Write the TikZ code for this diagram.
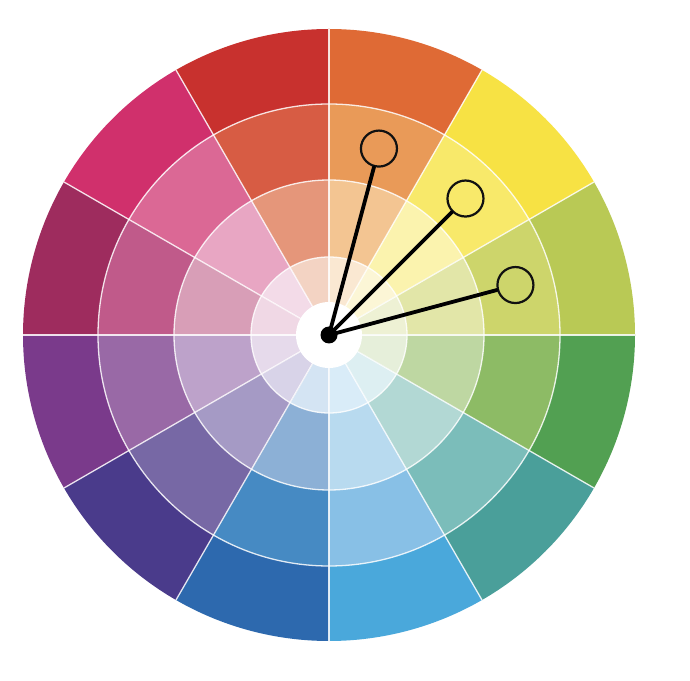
\documentclass[tikz,border=0pt]{standalone}
\usetikzlibrary{calc}
% sector colours: outer, second, third, inner
\definecolor{rA}{HTML}{C8312E}\definecolor{rB}{HTML}{D75C44}\definecolor{rC}{HTML}{E5967A}\definecolor{rD}{HTML}{F3D3C3}
\definecolor{oA}{HTML}{DF6A35}\definecolor{oB}{HTML}{E99A58}\definecolor{oC}{HTML}{F3C592}\definecolor{oD}{HTML}{FAE8D2}
\definecolor{yA}{HTML}{F7E244}\definecolor{yB}{HTML}{F8E96A}\definecolor{yC}{HTML}{FBF3AE}\definecolor{yD}{HTML}{FCF6D6}
\definecolor{lA}{HTML}{B9C955}\definecolor{lB}{HTML}{CDD56B}\definecolor{lC}{HTML}{E2E6A8}\definecolor{lD}{HTML}{EEF1D4}
\definecolor{gA}{HTML}{52A052}\definecolor{gB}{HTML}{8DBB65}\definecolor{gC}{HTML}{BED7A2}\definecolor{gD}{HTML}{E6EFDA}
\definecolor{tA}{HTML}{4A9F9A}\definecolor{tB}{HTML}{7BBDBA}\definecolor{tC}{HTML}{B2D8D4}\definecolor{tD}{HTML}{DDEFF2}
\definecolor{sA}{HTML}{4AA8DB}\definecolor{sB}{HTML}{88C0E6}\definecolor{sC}{HTML}{B8DAEF}\definecolor{sD}{HTML}{D9ECF8}
\definecolor{bA}{HTML}{2D69AE}\definecolor{bB}{HTML}{468AC3}\definecolor{bC}{HTML}{8CB0D6}\definecolor{bD}{HTML}{D4E4F3}
\definecolor{iA}{HTML}{4A3B8B}\definecolor{iB}{HTML}{7768A5}\definecolor{iC}{HTML}{A59AC5}\definecolor{iD}{HTML}{D8D3E8}
\definecolor{pA}{HTML}{7A3A8B}\definecolor{pB}{HTML}{9969A6}\definecolor{pC}{HTML}{BDA2CA}\definecolor{pD}{HTML}{E6DAEB}
\definecolor{wA}{HTML}{9E2C5E}\definecolor{wB}{HTML}{C05A8A}\definecolor{wC}{HTML}{D89EB7}\definecolor{wD}{HTML}{F0D8E5}
\definecolor{kA}{HTML}{D0306C}\definecolor{kB}{HTML}{DB6895}\definecolor{kC}{HTML}{E8A6C3}\definecolor{kD}{HTML}{F3DBE8}
\definecolor{inkc}{HTML}{111111}
\tikzset{
  sep/.style={draw=white, draw opacity=0.85, line width=1.3pt},
  marker/.style={circle, draw=inkc, line width=2.2pt, minimum size=36pt, inner sep=0pt},
  hub/.style={circle, fill=black, minimum size=17pt, inner sep=0pt},
  conn/.style={draw=black, line width=3.8pt, line cap=round},
}
\begin{document}
\begin{tikzpicture}[x=1pt,y=1pt]
\useasboundingbox (0,0) rectangle (690,680);
\fill[white] (0,0) rectangle (690,680);
\coordinate (C) at (329,345);
% sectors: start angle / colours
\foreach \a/\cA/\cB/\cC/\cD in {
  90/rA/rB/rC/rD, 60/oA/oB/oC/oD, 30/yA/yB/yC/yD, 0/lA/lB/lC/lD,
  -30/gA/gB/gC/gD, -60/tA/tB/tC/tD, -90/sA/sB/sC/sD, -120/bA/bB/bC/bD,
  -150/iA/iB/iC/iD, -180/pA/pB/pC/pD, 150/wA/wB/wC/wD, 120/kA/kB/kC/kD}{
  \fill[\cA] (C) -- ++(\a:306pt) arc[start angle=\a, end angle=\a+30, radius=306pt] -- cycle;
  \fill[\cB] (C) -- ++(\a:231pt) arc[start angle=\a, end angle=\a+30, radius=231pt] -- cycle;
  \fill[\cC] (C) -- ++(\a:155pt) arc[start angle=\a, end angle=\a+30, radius=155pt] -- cycle;
  \fill[\cD] (C) -- ++(\a:78pt) arc[start angle=\a, end angle=\a+30, radius=78pt] -- cycle;
}
% white separators
\foreach \a in {0,30,...,330}{
  \draw[sep] (C) -- ++(\a:306pt);
}
\foreach \r in {231,155,78}{
  \draw[sep] (C) circle[radius=\r pt];
}
\fill[white] (C) circle[radius=33pt];
% markers
\node[hub] (hub) at (C) {};
\node[marker] (m1) at ($(C)+(75:193pt)$) {};
\node[marker] (m2) at ($(C)+(45:193pt)$) {};
\node[marker] (m3) at ($(C)+(15:193pt)$) {};
\draw[conn] (hub.center) -- (m1);
\draw[conn] (hub.center) -- (m2);
\draw[conn] (hub.center) -- (m3);
\end{tikzpicture}
\end{document}
